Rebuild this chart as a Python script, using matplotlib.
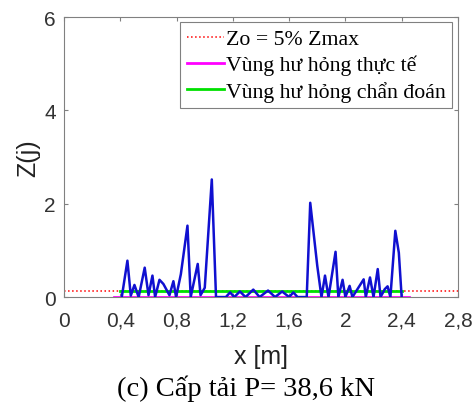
import matplotlib.pyplot as plt

# damage index Z(j) along the beam
x_pos = [0.41, 0.45, 0.474, 0.50, 0.53, 0.573, 0.60, 0.628, 0.647, 0.678, 0.706, 0.749,
         0.777, 0.796, 0.83, 0.877, 0.90, 0.95, 0.97, 1.00, 1.05, 1.08,
         1.15, 1.18, 1.21, 1.25, 1.29, 1.345, 1.39, 1.45, 1.50, 1.55, 1.60, 1.63, 1.66,
         1.725, 1.75, 1.80, 1.83, 1.855, 1.88, 1.93, 1.95, 1.98, 2.00, 2.03, 2.05,
         2.13, 2.145, 2.175, 2.20, 2.23, 2.25, 2.28, 2.30, 2.32, 2.355, 2.38, 2.40]
z_val = [0.0, 0.78, 0.03, 0.26, 0.0, 0.63, 0.04, 0.46, 0.0, 0.37, 0.28, 0.04,
         0.34, 0.0, 0.49, 1.53, 0.0, 0.71, 0.04, 0.2, 2.52, 0.0,
         0.0, 0.1, 0.0, 0.12, 0.0, 0.16, 0.0, 0.14, 0.0, 0.12, 0.0, 0.1, 0.0,
         0.0, 2.02, 0.67, 0.0, 0.46, 0.0, 0.97, 0.0, 0.37, 0.0, 0.24, 0.0,
         0.38, 0.0, 0.42, 0.0, 0.6, 0.0, 0.17, 0.23, 0.0, 1.42, 0.95, 0.0]

zo = 0.05 * max(z_val)
actual_zone = [0.355, 2.45]
diagnosed_zone = [0.40, 2.40]
x_ticks = [0, 0.4, 0.8, 1.2, 1.6, 2.0, 2.4, 2.8]
x_tick_labels = ['0', '0,4', '0,8', '1,2', '1,6', '2', '2,4', '2,8']
y_ticks = [0, 2, 4, 6]

fig = plt.figure(figsize=(4.75, 4.1), dpi=100)
ax = fig.add_axes([0.135, 0.273, 0.829, 0.683])

ax.plot(x_pos, z_val, color='#1010d0', lw=1.8, zorder=3)
ax.plot([0, 2.8], [zo, zo], color='red', ls=':', lw=1.1, label='Zo = 5% Zmax', zorder=2)
ax.plot(actual_zone, [0, 0], color='#ff00ff', lw=2, label='Vùng hư hỏng thực tế', zorder=2)
ax.plot(diagnosed_zone, [zo, zo], color='#00e000', lw=2, label='Vùng hư hỏng chẩn đoán', zorder=2)

ax.set_xlim(0, 2.8)
ax.set_ylim(0, 6)
ax.set_xticks(x_ticks)
ax.set_xticklabels(x_tick_labels)
ax.set_yticks(y_ticks)
ax.tick_params(direction='in', length=3, color='#808080', labelsize=15,
               top=True, right=True)
ax.tick_params(axis='x', pad=10)
ax.tick_params(axis='y', pad=6)
for label in ax.get_xticklabels() + ax.get_yticklabels():
    label.set_family('Liberation Sans')
    label.set_color('#333333')
for sp in ax.spines.values():
    sp.set_color('#808080')
    sp.set_linewidth(0.8)

ax.set_xlabel('x [m]', fontsize=18, family='Liberation Sans', color='#222222', labelpad=10)
ax.set_ylabel('Z(j)', fontsize=18, family='Liberation Sans', color='#222222', labelpad=3)

leg = ax.legend(loc='upper right', prop={'family': 'Liberation Serif', 'size': 15.7},
                handlelength=1.7, handletextpad=0.1, borderpad=0.3, labelspacing=0.25,
                fancybox=False, framealpha=1, borderaxespad=0.25)
leg.get_frame().set_edgecolor('#808080')
leg.get_frame().set_linewidth(0.8)

fig.text(0.518, 0.052, '(c) Cấp tải P= 38,6 kN', ha='center', va='center',
         fontsize=20.5, family='Liberation Serif')

fig.savefig('out.png', dpi=100)
